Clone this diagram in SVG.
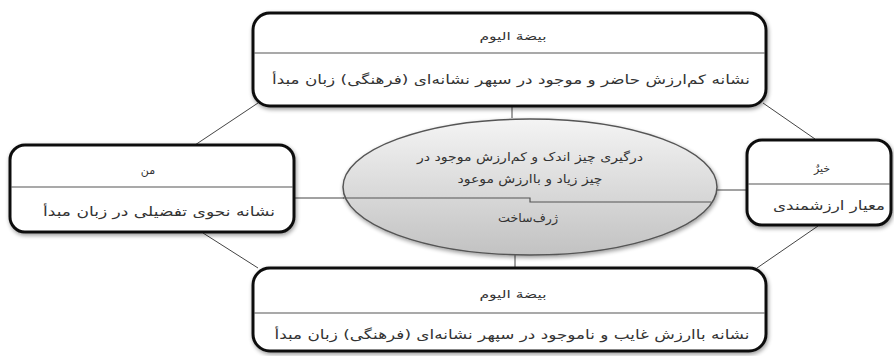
<svg xmlns="http://www.w3.org/2000/svg" width="894" height="356" viewBox="0 0 894 356">
<defs>
<style>
.box{fill:#fff;stroke:#111;stroke-width:3}
.div{stroke:#555;stroke-width:1.2;fill:none}
.con{stroke:#444;stroke-width:1;fill:none}
.t{font-family:"DejaVu Sans",sans-serif;fill:#333;text-anchor:middle}
.ti{font-size:11px}
.bd{font-size:13px}
.el{font-size:12px}
</style>
<linearGradient id="eg" x1="0" y1="0" x2="0" y2="1">
<stop offset="0" stop-color="#f4f4f4"/>
<stop offset="1" stop-color="#c2c2c2"/>
</linearGradient>
<filter id="sh" x="-10%" y="-10%" width="120%" height="130%">
<feGaussianBlur in="SourceAlpha" stdDeviation="2"/>
<feOffset dx="1" dy="2" result="b"/>
<feComponentTransfer><feFuncA type="linear" slope="0.4"/></feComponentTransfer>
<feMerge><feMergeNode/><feMergeNode in="SourceGraphic"/></feMerge>
</filter>
</defs>
<rect width="894" height="356" fill="#fff"/>
<g id="connectors">
<line class="con" x1="512" y1="106" x2="512" y2="118"/>
<line class="con" x1="515" y1="255" x2="515" y2="268"/>
<line class="con" x1="294" y1="198" x2="344" y2="198"/>
<line class="con" x1="716" y1="190" x2="747" y2="190"/>
<line class="con" x1="258" y1="103" x2="195" y2="145"/>
<line class="con" x1="763" y1="103" x2="815" y2="139"/>
<line class="con" x1="203" y1="233" x2="258" y2="268"/>
<line class="con" x1="818" y1="226" x2="757" y2="268"/>
</g>
<g id="center">
<ellipse cx="530" cy="187" rx="187" ry="68" fill="url(#eg)" stroke="#555" stroke-width="1.5" filter="url(#sh)"/>
<path class="div" d="M343 198 H530 V202 H711"/>
<text class="t el" x="530" y="161" direction="rtl" textLength="226" lengthAdjust="spacingAndGlyphs">درگیری چیز اندک و کم‌ارزش موجود در</text>
<text class="t el" x="530" y="183" direction="rtl" textLength="145" lengthAdjust="spacingAndGlyphs">چیز زیاد و باارزش موعود</text>
<text class="t el" x="528" y="222" direction="rtl" textLength="60" lengthAdjust="spacingAndGlyphs">ژرف‌ساخت</text>
</g>
<g id="top">
<rect class="box" x="253" y="13" width="513" height="93" rx="17" filter="url(#sh)"/>
<line class="div" x1="254" y1="53" x2="765" y2="53"/>
<text class="t ti" x="513" y="40" direction="rtl" textLength="67" lengthAdjust="spacingAndGlyphs">بیضة الیوم</text>
<text class="t bd" x="511" y="84" direction="rtl" textLength="478" lengthAdjust="spacingAndGlyphs">نشانه کم‌ارزش حاضر و موجود در سپهر نشانه‌ای (فرهنگی) زبان مبدأ</text>
</g>
<g id="left">
<rect class="box" x="10" y="145" width="284" height="87" rx="15" filter="url(#sh)"/>
<line class="div" x1="11" y1="187" x2="293" y2="187"/>
<text class="t ti" x="148" y="174" direction="rtl">من</text>
<text class="t bd" x="159" y="216" direction="rtl" textLength="232" lengthAdjust="spacingAndGlyphs">نشانه نحوی تفضیلی در زبان مبدأ</text>
</g>
<g id="right">
<rect class="box" x="747" y="140" width="144" height="85" rx="15" filter="url(#sh)"/>
<line class="div" x1="748" y1="184" x2="890" y2="184"/>
<text class="t ti" x="822" y="172" direction="rtl">خیرٌ</text>
<text class="t bd" x="829" y="210" direction="rtl" textLength="112" lengthAdjust="spacingAndGlyphs">معیار ارزشمندی</text>
</g>
<g id="bottom">
<rect class="box" x="253" y="268" width="513" height="83" rx="17" filter="url(#sh)"/>
<line class="div" x1="254" y1="313" x2="765" y2="313"/>
<text class="t ti" x="513" y="298" direction="rtl" textLength="67" lengthAdjust="spacingAndGlyphs">بیضة الیوم</text>
<text class="t bd" x="512" y="339" direction="rtl" textLength="475" lengthAdjust="spacingAndGlyphs">نشانه باارزش غایب و ناموجود در سپهر نشانه‌ای (فرهنگی) زبان مبدأ</text>
</g>
</svg>
